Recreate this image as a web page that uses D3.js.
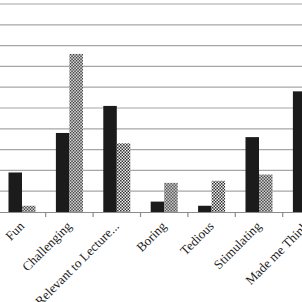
<!DOCTYPE html>
<html><head><meta charset="utf-8">
<script src="https://cdn.jsdelivr.net/npm/d3@7"></script>
<style>html,body{margin:0;padding:0;background:#fff;overflow:hidden}</style>
</head><body>
<script>
const categories = ["Fun","Challenging","Relevant to Lecture...","Boring","Tedious","Stimulating","Made me Think"];
const seriesA = [1.9, 3.8, 5.1, 0.5, 0.3, 3.6, 5.8];
const seriesB = [0.3, 7.6, 3.3, 1.4, 1.5, 1.8, 2.6];
const yTicks = [0,1,2,3,4,5,6,7,8,9,10];

const W = 302, H = 302;
const svg = d3.select("body").append("svg").attr("width", W).attr("height", H);
const defs = svg.append("defs");
const pat = defs.append("pattern").attr("id","chk").attr("patternUnits","userSpaceOnUse")
  .attr("width",3).attr("height",3);
pat.append("rect").attr("width",3).attr("height",3).attr("fill","#fff");
pat.append("rect").attr("width",1.5).attr("height",1.5).attr("fill","#222");
pat.append("rect").attr("x",1.5).attr("y",1.5).attr("width",1.5).attr("height",1.5).attr("fill","#222");

const bw = 47.4, x0start = -1.7;
const x = d3.scaleBand().domain(categories).range([x0start, x0start + bw*categories.length]).padding(0);
const y = d3.scaleLinear().domain([0,10]).range([212, 4]);
const inner = d3.scaleBand().domain(["A","B"]).range([bw*0.215, bw*0.785]).padding(0);

svg.append("g").selectAll("line").data(yTicks.slice(1)).join("line")
  .attr("x1",0).attr("x2",W).attr("y1",d=>y(d)).attr("y2",d=>y(d))
  .attr("stroke","#a6a6a6").attr("stroke-width",1.2);

const g = svg.append("g").selectAll("g").data(categories).join("g")
  .attr("transform", d=>`translate(${x(d)},0)`);
g.append("rect").attr("x",inner("A")).attr("width",inner.bandwidth())
  .attr("y",(d,i)=>y(seriesA[i])).attr("height",(d,i)=>y(0)-y(seriesA[i])).attr("fill","#1b1b1b");
g.append("rect").attr("x",inner("B")).attr("width",inner.bandwidth())
  .attr("y",(d,i)=>y(seriesB[i])).attr("height",(d,i)=>y(0)-y(seriesB[i])).attr("fill","url(#chk)");

const xAxis = d3.axisBottom(x).tickSize(0).tickFormat("");
svg.append("g").attr("transform",`translate(0,${y(0)})`).call(xAxis)
  .call(s=>s.select(".domain").attr("stroke","#8c8c8c").attr("stroke-width",1.2));
svg.append("g").selectAll("line").data(d3.range(categories.length+1)).join("line")
  .attr("x1",i=>x0start+i*bw).attr("x2",i=>x0start+i*bw)
  .attr("y1",y(0)).attr("y2",y(0)+5).attr("stroke","#8c8c8c").attr("stroke-width",1.2);

svg.append("g").selectAll("text").data(categories).join("text")
  .attr("transform", d=>`translate(${x(d)+bw/2+3},${y(0)+15}) rotate(-45)`)
  .attr("text-anchor","end")
  .attr("font-family","'Liberation Serif', serif").attr("font-size",13)
  .attr("fill","#1a1a1a")
  .text(d=>d);
</script>
</body></html>
